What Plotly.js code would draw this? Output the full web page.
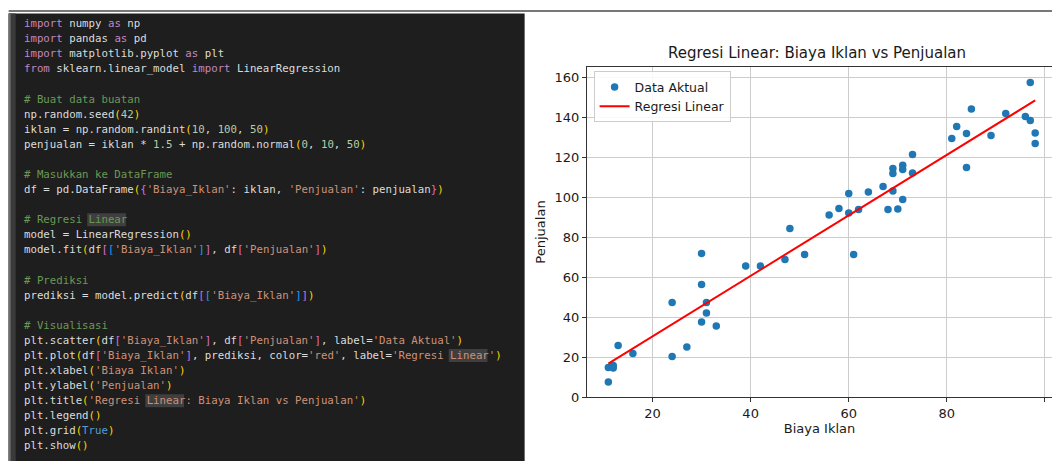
<!DOCTYPE html>
<html>
<head>
<meta charset="utf-8">
<script src="https://cdn.plot.ly/plotly-3.0.1.min.js"></script>
<style>
html,body{margin:0;padding:0;background:#fff;}
#chart{width:1052px;height:461px;}
.annotation-text{white-space:pre;}
</style>
</head>
<body>
<div id="chart"></div>
<script>
// ---- Data ----
const biayaIklan = [11, 11, 12, 12, 13, 16, 24, 24, 27, 30, 30, 30, 31, 31, 33, 39, 42, 47, 48, 51,
  56, 58, 60, 60, 61, 62, 64, 67, 68, 69, 69, 69, 70, 71, 71, 71, 73, 73, 81, 82,
  84, 84, 85, 89, 92, 96, 97, 97, 98, 98];
const penjualan = [7.5, 14.7, 15.8, 14.5, 25.8, 21.8, 20.3, 47.3, 25.0, 71.8, 56.2, 37.5, 47.3, 42.0, 35.5, 65.5, 65.5, 68.8, 84.3, 71.3,
  91.0, 94.2, 101.7, 92.0, 71.3, 93.7, 102.5, 105.3, 93.7, 114.2, 111.7, 103.0, 94.0, 115.9, 113.7, 98.7, 121.2, 112.0, 129.2, 135.2,
  131.7, 114.7, 144.0, 130.7, 141.7, 140.3, 157.3, 138.3, 132.0, 126.7];
const regresiX = [11, 98];
const regresiY = [16.7, 148.3];
const xTicks = [20, 40, 60, 80, 100];
const yTicks = [0, 20, 40, 60, 80, 100, 120, 140, 160];

// ---- Code panel text (tokens: [text, style]) ----
const codeLines = [
  [["import","k"],[" numpy ","t"],["as","k"],[" np","t"]],
  [["import","k"],[" pandas ","t"],["as","k"],[" pd","t"]],
  [["import","k"],[" matplotlib.pyplot ","t"],["as","k"],[" plt","t"]],
  [["from","k"],[" sklearn.linear_model ","t"],["import","k"],[" LinearRegression","t"]],
  [],
  [["# Buat data buatan","c"]],
  [["np.random.seed","t"],["(","b1"],["42","n"],[")","b1"]],
  [["iklan = np.random.randint","t"],["(","b1"],["10","n"],[", ","t"],["100","n"],[", ","t"],["50","n"],[")","b1"]],
  [["penjualan = iklan * ","t"],["1.5","n"],[" + np.random.normal","t"],["(","b1"],["0","n"],[", ","t"],["10","n"],[", ","t"],["50","n"],[")","b1"]],
  [],
  [["# Masukkan ke DataFrame","c"]],
  [["df = pd.DataFrame","t"],["(","b1"],["{","b2"],["'Biaya_Iklan'","s"],[": iklan, ","t"],["'Penjualan'","s"],[": penjualan","t"],["}","b2"],[")","b1"]],
  [],
  [["# Regresi ","c"],["Linear","ch"]],
  [["model = LinearRegression","t"],["()","b1"]],
  [["model.fit","t"],["(","b1"],["df","t"],["[","b2"],["[","b3"],["'Biaya_Iklan'","s"],["]","b3"],["]","b2"],[", df","t"],["[","b2"],["'Penjualan'","s"],["]","b2"],[")","b1"]],
  [],
  [["# Prediksi","c"]],
  [["prediksi = model.predict","t"],["(","b1"],["df","t"],["[","b2"],["[","b3"],["'Biaya_Iklan'","s"],["]","b3"],["]","b2"],[")","b1"]],
  [],
  [["# Visualisasi","c"]],
  [["plt.scatter","t"],["(","b1"],["df","t"],["[","b2"],["'Biaya_Iklan'","s"],["]","b2"],[", df","t"],["[","b2"],["'Penjualan'","s"],["]","b2"],[", label=","t"],["'Data Aktual'","s"],[")","b1"]],
  [["plt.plot","t"],["(","b1"],["df","t"],["[","b2"],["'Biaya_Iklan'","s"],["]","b2"],[", prediksi, color=","t"],["'red'","s"],[", label=","t"],["'Regresi ","s"],["Linear","sh"],["'","s"],[")","b1"]],
  [["plt.xlabel","t"],["(","b1"],["'Biaya Iklan'","s"],[")","b1"]],
  [["plt.ylabel","t"],["(","b1"],["'Penjualan'","s"],[")","b1"]],
  [["plt.title","t"],["(","b1"],["'Regresi ","s"],["Linear","sh"],[": Biaya Iklan vs Penjualan'","s"],[")","b1"]],
  [["plt.legend","t"],["()","b1"]],
  [["plt.grid","t"],["(","b1"],["True","bl"],[")","b1"]],
  [["plt.show","t"],["()","b1"]]
];
const codeColors = {k:"#c586c0", t:"#dcdcdc", c:"#6a9955", ch:"#6a9955", n:"#b5cea8", s:"#ce9178", sh:"#ce9178",
  b1:"#ffd700", b2:"#da70d6", b3:"#179fff", bl:"#569cd6"};

// ---- Geometry ----
const W = 1052, H = 461;
const M = {l: 586.7, r: 0, t: 66.7, b: 64.3};
const PW = W - M.l - M.r, PH = H - M.t - M.b;
const px = x => (x - M.l) / PW;
const py = y => (H - M.b - y) / PH;

const codeFont = 10.73, charW = codeFont * 0.602;
const codeX0 = 22, line0Y = 23.4, lineStep = 15.08;

const shapes = [
  {type:"line", xref:"paper", yref:"paper", x0:px(8), x1:px(W), y0:py(10.7), y1:py(10.7), line:{color:"#4a4a4a", width:1.3}, layer:"below"},
  {type:"rect", xref:"paper", yref:"paper", x0:px(8), x1:px(524.3), y0:py(13.3), y1:py(H), fillcolor:"#1e1e1e", line:{width:0}, layer:"below"},
  {type:"rect", xref:"paper", yref:"paper", x0:px(8), x1:px(15), y0:py(13.3), y1:py(H), fillcolor:"#3a3a3a", line:{width:0}, layer:"below"},
  {type:"rect", xref:"paper", yref:"paper", x0:px(8), x1:px(10), y0:py(13.3), y1:py(H), fillcolor:"#6e6e6e", line:{width:0}, layer:"below"}
];
const annotations = [];
codeLines.forEach((toks, i) => {
  if (!toks.length) return;
  const cy = line0Y + i * lineStep;
  let idx = 0, html = "";
  toks.forEach(([txt, st]) => {
    if (st === "ch" || st === "sh") {
      shapes.push({type:"rect", xref:"paper", yref:"paper",
        x0:px(codeX0 + idx * charW), x1:px(codeX0 + (idx + txt.length) * charW),
        y0:py(cy - 6.5), y1:py(cy + 6.5), fillcolor:"#3f3f3f", line:{width:0}, layer:"below"});
    }
    html += '<span style="color:' + codeColors[st] + '">' + txt + '</span>';
    idx += txt.length;
  });
  annotations.push({xref:"paper", yref:"paper", x:px(codeX0), y:py(cy), xanchor:"left", yanchor:"middle",
    showarrow:false, text:html, align:"left", borderpad:0,
    font:{family:"DejaVu Sans Mono", size:codeFont, color:"#dcdcdc"}});
});

const axisFont = {family:"DejaVu Sans", size:13, color:"#1a1a1a"};

const traces = [
  {type:"scatter", mode:"markers", name:"Data Aktual", x:biayaIklan, y:penjualan,
   marker:{color:"#1f77b4", size:7.5}},
  {type:"scatter", mode:"lines", name:"Regresi Linear", x:regresiX, y:regresiY,
   line:{color:"#ff0000", width:2}}
];

const layout = {
  width:W, height:H,
  margin:M,
  paper_bgcolor:"#ffffff", plot_bgcolor:"#ffffff",
  font:{family:"DejaVu Sans", color:"#1a1a1a"},
  showlegend:true,
  title:{text:"Regresi Linear: Biaya Iklan vs Penjualan", font:{family:"DejaVu Sans", size:15, color:"#1a1a1a"},
    xref:"container", yref:"container", x:817/W, y:1 - 53/H, xanchor:"center", yanchor:"middle"},
  xaxis:{range:[6.65, 101.43], tickvals:xTicks, ticktext:xTicks.map(String), ticks:"outside", ticklen:4,
    tickcolor:"#333", showline:true, linecolor:"#333", linewidth:1, mirror:true,
    showgrid:true, gridcolor:"#cccccc", gridwidth:1, zeroline:false, tickfont:axisFont,
    title:{text:"Biaya Iklan", font:axisFont, standoff:4}},
  yaxis:{range:[0, 165], tickvals:yTicks, ticktext:yTicks.map(String), ticks:"outside", ticklen:4,
    tickcolor:"#333", showline:true, linecolor:"#333", linewidth:1,
    showgrid:true, gridcolor:"#cccccc", gridwidth:1, zeroline:false, tickfont:axisFont,
    title:{text:"Penjualan", font:axisFont, standoff:6}},
  legend:{x:px(593.3), y:py(71), xref:"paper", yref:"paper", xanchor:"left", yanchor:"top",
    bgcolor:"rgba(255,255,255,0.85)", bordercolor:"#cccccc", borderwidth:1,
    font:{family:"DejaVu Sans", size:12.5, color:"#1a1a1a"}},
  shapes:shapes,
  annotations:annotations
};

Plotly.newPlot("chart", traces, layout, {staticPlot:true, displayModeBar:false});
</script>
</body>
</html>
